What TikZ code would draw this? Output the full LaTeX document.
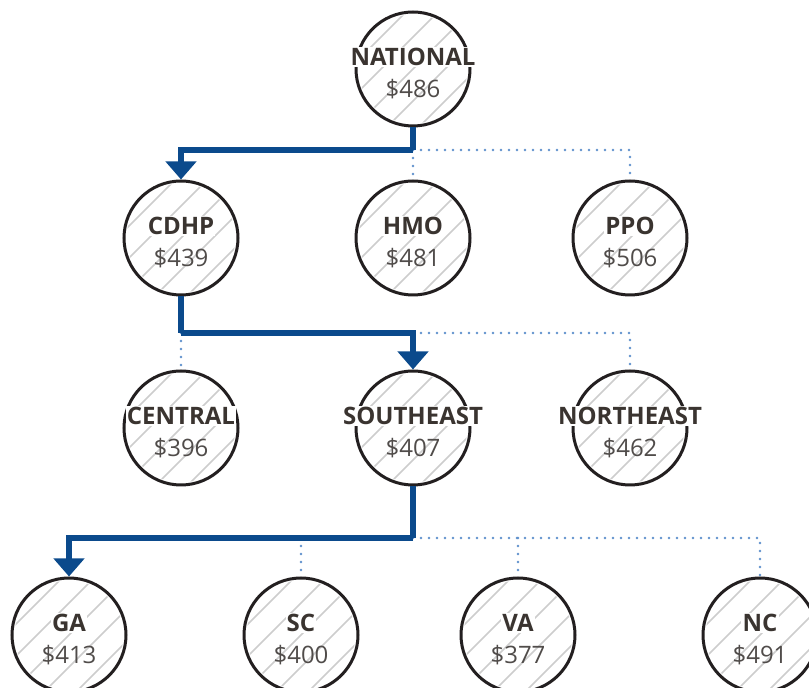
\documentclass[tikz,border=0pt]{standalone}
\usepackage{fontspec}
\setmainfont{Open Sans}
\usetikzlibrary{arrows.meta}
\definecolor{pathblue}{RGB}{11,74,140}
\definecolor{dotblue}{RGB}{95,145,205}
\definecolor{ringdark}{RGB}{35,31,32}
\definecolor{hatchgrey}{RGB}{205,205,205}
\definecolor{labeldark}{RGB}{58,52,48}
\definecolor{valuegrey}{RGB}{80,76,74}
\tikzset{
  costball/.style={circle,draw=ringdark,line width=1.5pt,minimum size=57pt,inner sep=0pt},
  hatchline/.style={draw=hatchgrey,line width=0.85pt},
  costlabel/.style={fill=white,inner sep=0.6pt,text=labeldark,font=\fontsize{12}{14}\selectfont\bfseries},
  costvalue/.style={inner sep=0pt,text=valuegrey,font=\fontsize{12}{14}\selectfont},
  mainline/.style={draw=pathblue,line width=2.8pt},
  mainarrow/.style={mainline,-{Triangle[width=15pt,length=9pt]}},
  minorline/.style={draw=dotblue,line width=1.3pt,line cap=round,dash pattern=on 0pt off 4pt}
}
% #1 name, #2 position, #3 label, #4 value
\newcommand{\costcircle}[4]{
  \node[costball] (#1) at (#2) {};
  \begin{scope}[shift={(#1.center)}]
    \clip (0,0) circle (27.2pt);
    \foreach \d in {-80,-64,...,80}
      \draw[hatchline] (\d pt-40pt,-40pt) -- ++(80pt,80pt);
  \end{scope}
  \node[costlabel] (#1-l) at ([yshift=6pt]#1.center) {#3};
  \node[costvalue] (#1-v) at ([yshift=-10pt]#1.center) {#4};
}
\begin{document}
\begin{tikzpicture}[x=0.5pt,y=-0.5pt]
\useasboundingbox[fill=white] (0,0) rectangle (809,688);
% Drawing circles
% Level 0: national
\costcircle{nat}{413,69}{NATIONAL}{\$486}
% Level 1: plan types
\costcircle{cdhp}{181,238}{CDHP}{\$439}
\costcircle{hmo}{413,238}{HMO}{\$481}
\costcircle{ppo}{630,238}{PPO}{\$506}
% Level 2: regions
\costcircle{central}{181,428}{CENTRAL}{\$396}
\costcircle{southeast}{413,428}{SOUTHEAST}{\$407}
\costcircle{northeast}{630,428}{NORTHEAST}{\$462}
% Level 3: states
\costcircle{ga}{69,635}{GA}{\$413}
\costcircle{sc}{301,635}{SC}{\$400}
\costcircle{va}{518,635}{VA}{\$377}
\costcircle{nc}{760,635}{NC}{\$491}
% Done with circles; drawing connectors
\coordinate (j1) at (413,150);
\coordinate (j2) at (181,333);
\coordinate (j3) at (413,538);
% Level 0 -> 1
\draw[minorline] (j1) -- (hmo.north);
\draw[minorline] (j1) -| (ppo.north);
\draw[mainline] (nat.south) -- (j1);
\draw[mainarrow] (j1) -| (cdhp.north);
% Level 1 -> 2
\draw[minorline] (j2) -- (central.north);
\draw[minorline] (southeast.north |- j2) -| (northeast.north);
\draw[mainline] (cdhp.south) -- (j2);
\draw[mainarrow] (j2) -| (southeast.north);
% Level 2 -> 3
\draw[minorline] (j3) -| (nc.north);
\draw[minorline] (sc.north |- j3) -- (sc.north);
\draw[minorline] (va.north |- j3) -- (va.north);
\draw[mainline] (southeast.south) -- (j3);
\draw[mainarrow] (j3) -| (ga.north);
% Done with connectors
\end{tikzpicture}
\end{document}
